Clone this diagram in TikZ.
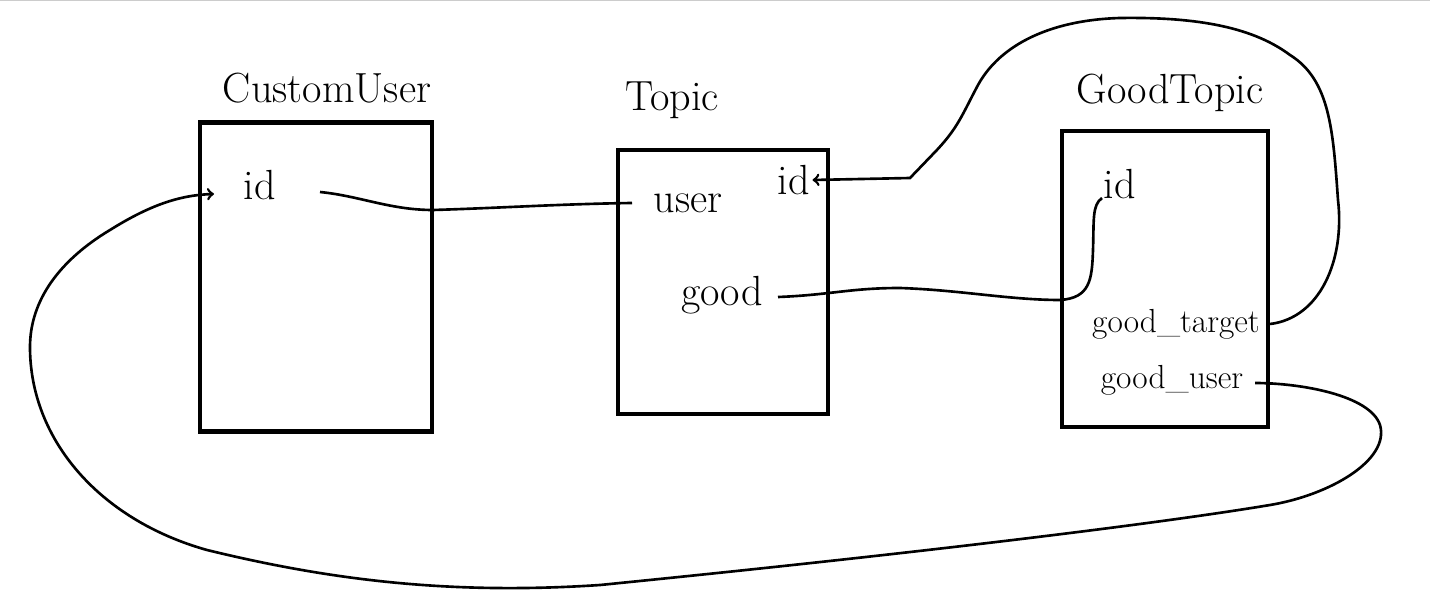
\documentclass[tikz,border=0pt]{standalone}
\usetikzlibrary{arrows}

\begin{document}
\begin{tikzpicture}[x=0.02cm,y=-0.02cm,auto,
 thick,table node/.style={rectangle,draw,line width=2.4pt,inner sep=0pt},
 title node/.style={font=\fontsize{24}{28}\selectfont},
 field node/.style={font=\fontsize{24}{28}\selectfont,inner sep=1pt},
 small field/.style={font=\fontsize{19}{22}\selectfont,inner sep=1pt},
 link/.style={line width=1.5pt}]

  \useasboundingbox (0,0) rectangle (1430,611);
  \draw[gray!40] (0,0) -- (1430,0);

  \node[table node,minimum width=4.64cm,minimum height=6.18cm] (cu) at (316,277) {};
  \node[table node,minimum width=4.2cm,minimum height=5.28cm] (tp) at (723,282) {};
  \node[table node,minimum width=4.12cm,minimum height=5.92cm] (gt) at (1165,279) {};

  \node[title node] (cu title) at (327,88) {CustomUser};
  \node[title node] (tp title) at (672,100) {Topic};
  \node[title node] (gt title) at (1170,93) {GoodTopic};

  \node[field node] (cu id) at (260,185) {id};
  \node[field node] (tp user) at (688,203) {user};
  \node[field node] (tp id) at (794,180) {id};
  \node[field node] (tp good) at (722,295) {good};
  \node[field node] (gt id) at (1120,184) {id};
  \node[small field] (gt target) at (1176,324) {good\_target};
  \node[small field] (gt user) at (1172,380) {good\_user};

  \coordinate (cu id out) at (320,192);
  \coordinate (cu id in) at (214,194);
  \coordinate (tp user in) at (632,203);
  \coordinate (tp good out) at (778,297);
  \coordinate (gt id in) at (1102,198);
  \coordinate (gt target out) at (gt.east |- gt target);
  \coordinate (gt user out) at (1255,383);

  % references
  \draw[link] (cu id out) .. controls (360,196) and (390,210) .. (433,210)
    .. controls (500,208) and (560,204) .. (tp user in);
  \draw[link] (tp good out) .. controls (830,295) and (850,288) .. (900,288)
    .. controls (960,290) and (1010,300) .. (1060,300)
    .. controls (1090,298) and (1092,280) .. (1093,250)
    .. controls (1094,220) and (1092,205) .. (gt id in);
  \draw[link,->] (gt target out) .. controls (1320,318) and (1345,260) .. (1338,200)
    .. controls (1333,130) and (1330,80) .. (1290,55)
    .. controls (1250,25) and (1190,17) .. (1120,18)
    .. controls (1050,20) and (1000,45) .. (978,85)
    .. controls (962,115) and (958,128) .. (935,152) -- (910,178) -- (tp id.east);
  \draw[link,->] (gt user out) .. controls (1300,383) and (1370,395) .. (1380,425)
    .. controls (1390,460) and (1330,495) .. (1270,505)
    .. controls (1150,525) and (900,555) .. (600,585)
    .. controls (450,595) and (330,580) .. (207,550)
    .. controls (100,520) and (30,440) .. (30,347)
    .. controls (30,300) and (60,260) .. (110,230)
    .. controls (150,205) and (180,195) .. (cu id in);
\end{tikzpicture}
\end{document}
